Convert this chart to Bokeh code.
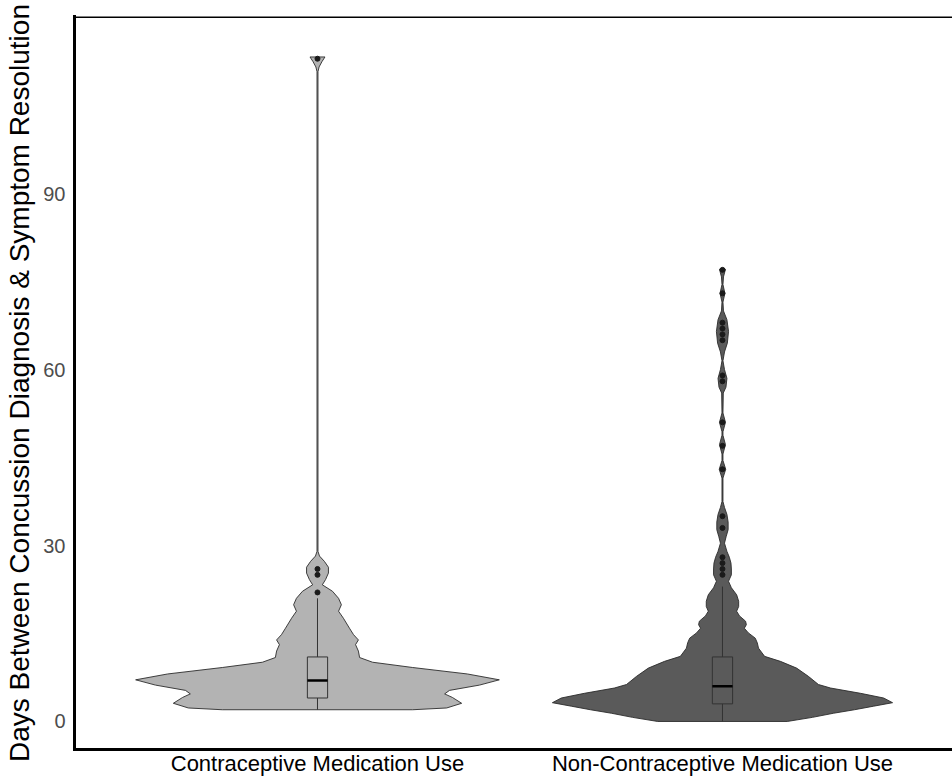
import numpy as np
from bokeh.plotting import figure
from bokeh.models import Range1d, FixedTicker, Span
from bokeh.embed import file_html
from bokeh.resources import INLINE

# ---------------- data ----------------
CATEGORIES = ["Contraceptive Medication Use", "Non-Contraceptive Medication Use"]
CATEGORY_POS = [1, 2]
Y_TICKS = [0, 30, 60, 90]
Y_TITLE = "Days Between Concussion Diagnosis & Symptom Resolution"

# violin outline (days, half-width of density in category units)
LEFT_DAYS = [2.0, 2.3, 3.1, 4.1, 4.7, 5.3, 6.2, 7.1, 8.1, 9.2, 10.1, 10.9, 12.0, 13.1,
             13.9, 14.8, 15.9, 17.6, 18.8, 19.9, 21.0, 22.2, 23.3, 24.2, 25.3, 26.3,
             27.3, 28.2, 29.0, 110.8, 111.6, 112.5, 113.3]
LEFT_WIDTH = [0.235, 0.319, 0.356, 0.333, 0.314, 0.326, 0.400, 0.449, 0.370, 0.235,
              0.136, 0.104, 0.101, 0.094, 0.101, 0.089, 0.079, 0.064, 0.052, 0.059,
              0.052, 0.037, 0.012, 0.020, 0.027, 0.027, 0.017, 0.005, 0.0012, 0.0012,
              0.004, 0.011, 0.0185]

RIGHT_DAYS = [0.0, 0.7, 1.4, 2.0, 2.6, 3.2, 4.0, 4.8, 5.7, 6.3, 7.7, 9.1, 10.25, 11.1,
              12.5, 13.4, 14.2, 15.1, 15.9, 16.5, 17.1, 18.0, 18.8, 19.6, 20.5, 21.6,
              22.8, 23.9, 25.0, 26.0, 27.0, 28.0, 29.0, 30.4, 31.5, 32.7, 34.0, 35.3,
              36.5, 37.5, 41.5, 43.0, 44.5, 45.6, 47.2, 48.8, 49.4, 51.0, 52.6, 56.0,
              57.0, 58.5, 60.0, 61.5, 63.0, 64.5, 66.5, 68.5, 70.0, 71.5, 73.0, 74.5,
              75.8, 77.1]
RIGHT_WIDTH = [0.160, 0.222, 0.274, 0.326, 0.373, 0.420, 0.398, 0.341, 0.267, 0.237,
               0.212, 0.183, 0.143, 0.104, 0.089, 0.086, 0.081, 0.064, 0.054, 0.059,
               0.057, 0.042, 0.035, 0.040, 0.040, 0.035, 0.022, 0.015, 0.022, 0.022,
               0.021, 0.017, 0.011, 0.005, 0.009, 0.014, 0.014, 0.011, 0.005, 0.0012,
               0.0012, 0.008, 0.0012, 0.0012, 0.0074, 0.0012, 0.0012, 0.0074, 0.0012,
               0.002, 0.0086, 0.011, 0.005, 0.0012, 0.005, 0.012, 0.015, 0.011, 0.0025,
               0.0012, 0.006, 0.0012, 0.0025, 0.0074]

# box plot statistics: [lower whisker, Q1, median, Q3, upper whisker]
LEFT_BOX = [2, 4, 7, 11, 21]
RIGHT_BOX = [0, 3, 6, 11, 23]
LEFT_OUTLIERS = [22, 25, 26, 113]
RIGHT_OUTLIERS = [25, 26, 27, 28, 33, 35, 43, 47, 51, 58, 59, 65, 66, 67, 68, 73, 77]

FILLS = ["#b3b3b3", "#5a5a5a"]

# ---------------- figure ----------------
Y_START, Y_END = -4.78, 120.2
p = figure(width=952, height=778, output_backend="svg", toolbar_location=None,
           x_range=Range1d(0.4, 2.568), y_range=Range1d(Y_START, Y_END))
p.min_border_left = 74
p.min_border_right = 0
p.min_border_top = 16
p.min_border_bottom = 0
p.outline_line_color = None
p.xgrid.visible = False
p.ygrid.visible = False
p.background_fill_color = "white"
p.border_fill_color = "white"

FONT = "Liberation Sans"

yax = p.yaxis[0]
yax.ticker = FixedTicker(ticks=Y_TICKS)
yax.axis_label = Y_TITLE
yax.axis_label_text_font = FONT
yax.axis_label_text_font_style = "normal"
yax.axis_label_text_font_size = "28px"
yax.axis_label_text_color = "black"
yax.axis_label_standoff = 5
yax.major_label_text_font = FONT
yax.major_label_text_font_size = "20px"
yax.major_label_text_color = "#4d4d4d"
yax.major_label_standoff = 9
yax.major_tick_out = 0
yax.major_tick_in = 0
yax.minor_tick_out = 0
yax.minor_tick_in = 0
yax.axis_line_width = 3
yax.axis_line_color = "black"
yax.axis_line_cap = "square"

xax = p.xaxis[0]
xax.ticker = FixedTicker(ticks=CATEGORY_POS)
xax.major_label_overrides = {pos: name for pos, name in zip(CATEGORY_POS, CATEGORIES)}
xax.major_label_text_font = FONT
xax.major_label_text_font_size = "22px"
xax.major_label_text_color = "black"
xax.major_label_standoff = 1
xax.major_tick_out = 0
xax.major_tick_in = 0
xax.minor_tick_out = 0
xax.minor_tick_in = 0
xax.axis_line_width = 3
xax.axis_line_color = "black"
xax.axis_line_cap = "square"

p.add_layout(Span(location=Y_END, dimension="width", line_color="black", line_width=3))

groups = [(CATEGORY_POS[0], LEFT_DAYS, LEFT_WIDTH, LEFT_BOX, LEFT_OUTLIERS, FILLS[0]),
          (CATEGORY_POS[1], RIGHT_DAYS, RIGHT_WIDTH, RIGHT_BOX, RIGHT_OUTLIERS, FILLS[1])]

BOX_HALF = 0.025
for c, days, width, box, outl, fill in groups:
    d = np.asarray(days, dtype=float)
    w = np.asarray(width, dtype=float)
    xs = np.concatenate([c - w, (c + w)[::-1]])
    ys = np.concatenate([d, d[::-1]])
    p.patch(xs, ys, fill_color=fill, line_color="#2b2b2b", line_width=0.9)

    lo, q1, med, q3, hi = box
    p.segment(x0=[c, c], y0=[lo, q3], x1=[c, c], y1=[q1, hi], line_color="#333333", line_width=1)
    p.quad(left=[c - BOX_HALF], right=[c + BOX_HALF], bottom=[q1], top=[q3],
           fill_color=None, line_color="#333333", line_width=1)
    p.segment(x0=[c - BOX_HALF], y0=[med], x1=[c + BOX_HALF], y1=[med],
              line_color="black", line_width=2.5)
    p.scatter(x=[c] * len(outl), y=outl, size=5, fill_color="#1a1a1a",
              line_color="#1a1a1a")

open("out.html", "w").write(file_html(p, INLINE))
